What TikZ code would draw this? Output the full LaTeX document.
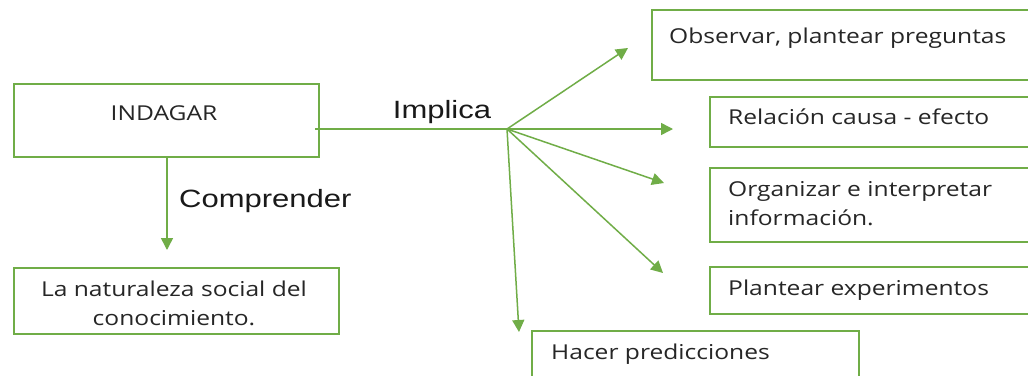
\documentclass[tikz,border=0pt]{standalone}
\usepackage{fontspec}
\usepackage{graphicx}
\setmainfont{Open Sans}
\newfontfamily\lblfont{Liberation Sans}
\usetikzlibrary{arrows.meta}
\definecolor{grn}{HTML}{70AD47}
\newcommand\bx[1]{\scalebox{1.2}[1]{#1}}
\newcommand\lx[1]{\scalebox{1.24}[1]{#1}}
\tikzset{
  box/.style={draw=grn, line width=1.5pt, rectangle, inner sep=0pt, anchor=north west},
  btxt/.style={inner sep=0pt, font=\fontsize{20.5}{29}\selectfont, text=black!85},
  lbl/.style={inner sep=0pt, font=\lblfont\fontsize{25}{30}\selectfont, text=black!90},
  arr/.style={draw=grn, line width=1.5pt, -{Triangle[length=12pt,width=12pt]}},
  ln/.style={draw=grn, line width=1.5pt}
}
\begin{document}
\begin{tikzpicture}[x=1pt,y=-1pt]
\clip (0,0) rectangle (1028,375);
\fill[white] (0,0) rectangle (1028,375);
% boxes
\node[box, minimum width=305pt, minimum height=73pt] (ind) at (13,83) {};
\node[box, minimum width=325pt, minimum height=66pt] (nat) at (13,267) {};
\node[box, minimum width=400pt, minimum height=70pt] (obs) at (651,9) {};
\node[box, minimum width=340pt, minimum height=50pt] (rel) at (709,96) {};
\node[box, minimum width=340pt, minimum height=74pt] (org) at (709,167) {};
\node[box, minimum width=340pt, minimum height=47pt] (pla) at (709,266) {};
\node[box, minimum width=327pt, minimum height=60pt] (hac) at (531,330) {};
% texts
\node[btxt, anchor=base] (tind) at (164,120) {\bx{INDAGAR}};
\node[btxt, align=center, anchor=base] (tnat) at (174,325) {\bx{La naturaleza social del}\\\bx{conocimiento.}};
\node[btxt, anchor=base west] (tobs) at (669,43) {\bx{Observar, plantear preguntas}};
\node[btxt, anchor=base west] (trel) at (728,124) {\bx{Relación causa - efecto}};
\node[btxt, anchor=base west, align=left] (torg) at (728,225) {\bx{Organizar e interpretar}\\\bx{información.}};
\node[btxt, anchor=base west] (tpla) at (728,295) {\bx{Plantear experimentos}};
\node[btxt, anchor=base west] (thac) at (551,359) {\bx{Hacer predicciones}};
% connectors
\coordinate (hub) at (507,129);
\coordinate (start) at (315,129);
\draw[ln] (start) -- (hub);
\node[lbl, anchor=base] (impl) at (442,118) {\lx{Implica}};
\coordinate (eobs) at (628,48);
\coordinate (erel) at (673,129);
\coordinate (eorg) at (664,183);
\coordinate (epla) at (663,273);
\coordinate (ehac) at (519,332);
\draw[arr] (hub) -- (eobs);
\draw[arr] (hub) -- (erel);
\draw[arr] (hub) -- (eorg);
\draw[arr] (hub) -- (epla);
\draw[arr] (hub) -- (ehac);
\coordinate (edn) at (167,250);
\draw[arr] (ind.south -| edn) -- (edn);
\node[lbl, anchor=base west] (comp) at (179,207) {\lx{Comprender}};
\end{tikzpicture}
\end{document}
